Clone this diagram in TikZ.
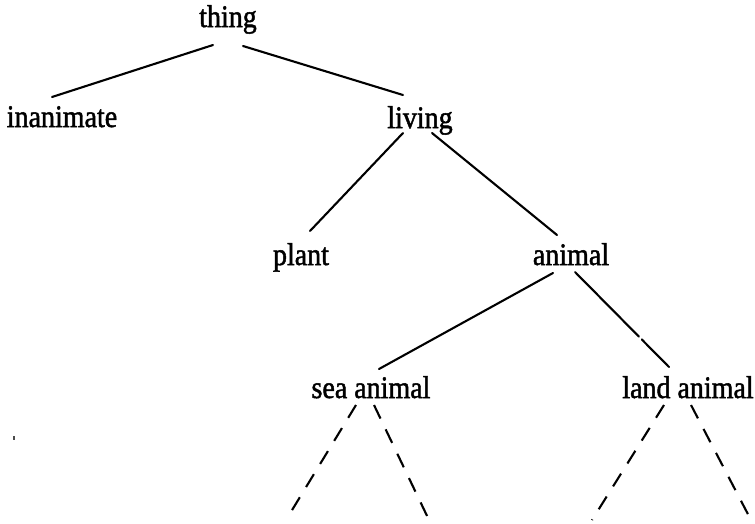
\documentclass[tikz,border=0pt]{standalone}
\usepackage{fontspec}
\setmainfont{Liberation Serif}
\newfontfamily\lblfont[FakeBold=1.6]{Liberation Serif}
\usetikzlibrary{calc}
\newcommand{\lbltext}[1]{\scalebox{1}[1.12]{#1}}
\begin{document}
\begin{tikzpicture}[x=1pt,y=-1pt,
  lbl/.style={anchor=base,inner sep=0pt,font=\lblfont\fontsize{28}{30}\selectfont},
  edge/.style={line width=2.1pt,line cap=round},
  dashedge/.style={line width=2.1pt,dash pattern=on 15pt off 12pt}]
\useasboundingbox (0,0) rectangle (755,523);
\node[lbl] (thing) at (228,27) {\lbltext{thing}};
\node[lbl] (inanimate) at (62,127) {\lbltext{inanimate}};
\node[lbl] (living) at (420,128) {\lbltext{living}};
\node[lbl] (plant) at (301,265) {\lbltext{plant}};
\node[lbl] (animal) at (571,265) {\lbltext{animal}};
\node[lbl] (sea) at (371,398) {\lbltext{sea animal}};
\node[lbl] (land) at (688,398) {\lbltext{land animal}};
% solid connectors
\draw[edge] ([shift={(-15,18)}]thing.base) -- ([shift={(-10,-30)}]inanimate.base);
\draw[edge] ([shift={(15,19)}]thing.base) -- ([shift={(-17,-33)}]living.base);
\draw[edge] ([shift={(-17,5)}]living.base) -- ([shift={(9,-34)}]plant.base);
\draw[edge] ([shift={(12,5)}]living.base) -- ([shift={(-14,-30)}]animal.base);
\draw[edge] ([shift={(-18,8)}]animal.base) -- ([shift={(8,-29)}]sea.base);
\coordinate (al1) at ([shift={(4,7)}]animal.base);
\coordinate (al2) at ([shift={(-19,-31)}]land.base);
\draw[edge] (al1) -- ($(al1)!0.68!(al2)$);
\draw[edge] ($(al1)!0.71!(al2)$) -- (al2);
% dashed continuations
\coordinate (sl) at ([shift={(-85,122)}]sea.base);
\coordinate (sr) at ([shift={(58,122)}]sea.base);
\coordinate (ll) at ([shift={(-96,122)}]land.base);
\coordinate (lr) at ([shift={(63,122)}]land.base);
\draw[dashedge] ([shift={(-15,7)}]sea.base) -- (sl);
\draw[dashedge] ([shift={(3,7)}]sea.base) -- (sr);
\draw[dashedge] ([shift={(-24,7)}]land.base) -- (ll);
\draw[dashedge] ([shift={(3,7)}]land.base) -- (lr);
% small speck
\draw[line width=1.5pt,black!70] (14,436) -- (14,440);
\end{tikzpicture}
\end{document}
